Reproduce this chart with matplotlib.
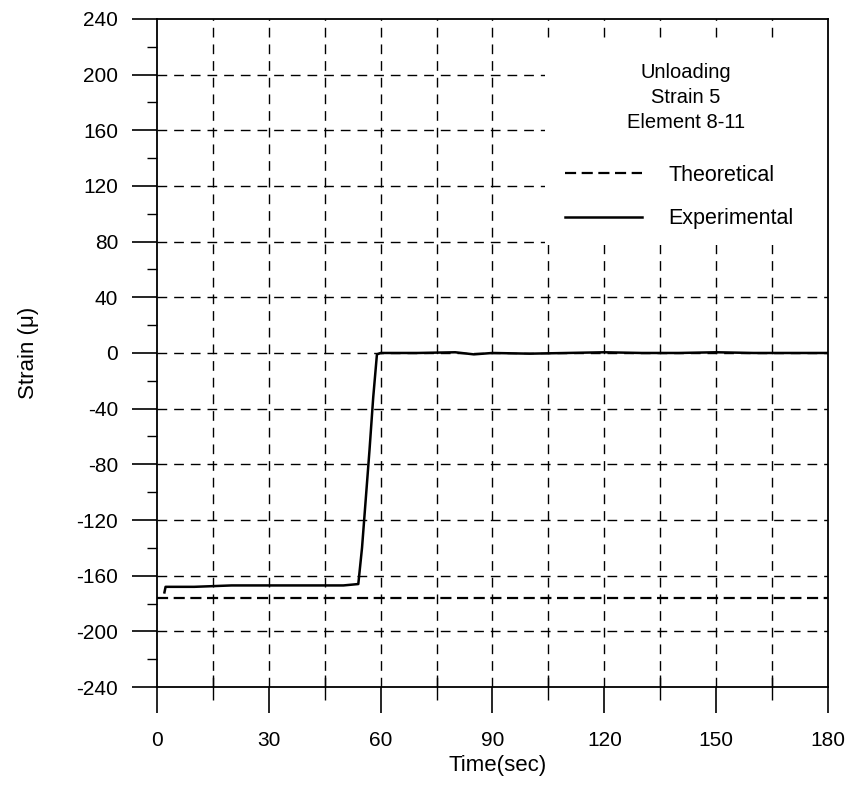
import matplotlib.pyplot as plt
from matplotlib.patches import Rectangle
from matplotlib.ticker import MultipleLocator

plt.rcParams['font.family'] = ['Liberation Sans', 'DejaVu Sans']
plt.rcParams['axes.unicode_minus'] = False

# Theoretical strain (constant)
t_theo = [0, 180]
s_theo = [-176, -176]

# Experimental strain
t_exp = [2, 2.3, 10, 20, 30, 40, 50, 54, 55, 56, 57, 58, 59, 60, 70, 80, 85, 90, 100, 110, 120, 130, 140, 150, 160, 170, 180]
s_exp = [-172, -168, -168, -167, -167, -167, -167, -166, -140, -105, -70, -32, -1, 0, 0, 0.5, -1, 0, -0.5, 0, 0.5, 0, 0, 0.5, 0, 0, 0]

xticks = [0, 30, 60, 90, 120, 150, 180]
yticks = [-240, -200, -160, -120, -80, -40, 0, 40, 80, 120, 160, 200, 240]

fig = plt.figure(figsize=(8.56, 7.87), dpi=100)
ax = fig.add_axes([0.1834, 0.127, 0.7839, 0.849])

# dashed grid
for x in range(15, 180, 15):
    ax.axvline(x, color='black', linestyle=(0, (7, 5)), linewidth=1.0, zorder=1)
for y in range(-200, 240, 40):
    ax.axhline(y, color='black', linestyle=(0, (7, 5)), linewidth=1.0, zorder=1)

ax.plot(t_theo, s_theo, color='black', linestyle=(0, (5, 2.5)), linewidth=1.6, label='Theoretical', zorder=3)
ax.plot(t_exp, s_exp, color='black', linestyle='-', linewidth=1.8, label='Experimental', zorder=3)

ax.set_xlim(0, 180)
ax.set_ylim(-240, 240)
ax.set_xticks(xticks)
ax.set_yticks(yticks)
ax.xaxis.set_minor_locator(MultipleLocator(15))
ax.yaxis.set_minor_locator(MultipleLocator(20))
ax.tick_params(axis='x', which='major', direction='out', length=19, width=1.2, labelsize=15, pad=13)
ax.tick_params(axis='x', which='minor', direction='inout', length=18, width=1)
ax.tick_params(axis='y', which='major', direction='out', length=18, width=1.2, labelsize=15, pad=10)
ax.tick_params(axis='y', which='minor', direction='out', length=7, width=1)
for sp in ax.spines.values():
    sp.set_linewidth(1.3)
    sp.set_zorder(8)

ax.set_xlabel('Time(sec)', fontsize=16)
ax.xaxis.set_label_coords(0.507, -0.102)
ax.set_ylabel('Strain (\u03bc)', fontsize=16)
ax.yaxis.set_label_coords(-0.176, 0.5)

# white panel behind the annotation and legend
ax.add_patch(Rectangle((0.578, 0.662), 0.422, 0.31, transform=ax.transAxes,
                       facecolor='white', edgecolor='none', zorder=4))
ax.text(0.788, 0.883, 'Unloading\nStrain 5\nElement 8-11', transform=ax.transAxes,
        ha='center', va='center', multialignment='center', fontsize=14.5,
        linespacing=1.4, zorder=5)

leg = ax.legend(loc='upper left', bbox_to_anchor=(0.608, 0.782), fontsize=15.5,
                handlelength=3.6, handletextpad=1.2, labelspacing=1.05,
                borderpad=0, borderaxespad=0, frameon=False)
leg.set_zorder(6)

fig.savefig('out.png', dpi=100)
